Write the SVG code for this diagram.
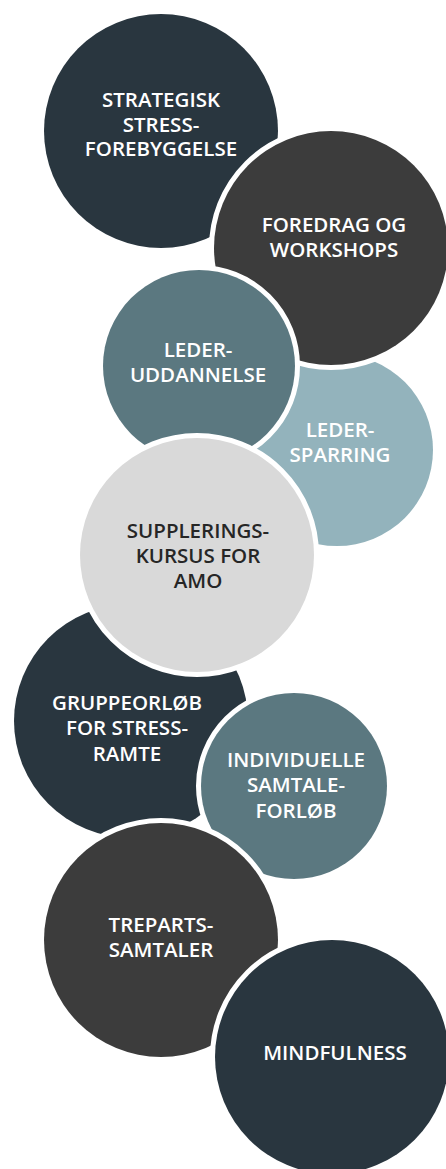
<svg xmlns="http://www.w3.org/2000/svg" width="446" height="1169" viewBox="0 0 446 1169">
<style>
.c{stroke:#ffffff;stroke-width:10;paint-order:stroke}
.t{font-family:"Open Sans","Liberation Sans",sans-serif;font-size:20.5px;font-weight:600;text-anchor:middle;fill:#ffffff}
.d{fill:#262626}
</style>
<rect width="446" height="1169" fill="#ffffff"/>
<g id="connectors"/>
<g id="n1"><circle class="c" cx="161" cy="131" r="117" fill="#29363f"/>
<text class="t" x="161" y="107">STRATEGISK</text><text class="t" x="161" y="132">STRESS-</text><text class="t" x="161" y="156">FOREBYGGELSE</text></g>
<g id="n4"><circle class="c" cx="337" cy="450" r="96" fill="#93b3bc"/>
<text class="t" x="340" y="437">LEDER-</text><text class="t" x="340" y="462">SPARRING</text></g>
<g id="n2"><circle class="c" cx="331" cy="248" r="117" fill="#3c3c3c"/>
<text class="t" x="334" y="232">FOREDRAG OG</text><text class="t" x="334" y="257">WORKSHOPS</text></g>
<g id="n3"><circle class="c" cx="199" cy="366" r="96" fill="#5b7880"/>
<text class="t" x="198" y="357">LEDER-</text><text class="t" x="198" y="382">UDDANNELSE</text></g>
<g id="n6"><circle class="c" cx="131" cy="721" r="117" fill="#29363f"/>
<text class="t" x="127" y="710">GRUPPEORLØB</text><text class="t" x="127" y="735">FOR STRESS-</text><text class="t" x="127" y="761">RAMTE</text></g>
<g id="n5"><circle class="c" cx="197" cy="555" r="117" fill="#d9d9d9"/>
<text class="t d" x="198" y="538">SUPPLERINGS-</text><text class="t d" x="198" y="563">KURSUS FOR</text><text class="t d" x="198" y="588">AMO</text></g>
<g id="n7"><circle class="c" cx="294" cy="786" r="93" fill="#5b7880"/>
<text class="t" x="296" y="767">INDIVIDUELLE</text><text class="t" x="296" y="792">SAMTALE-</text><text class="t" x="296" y="818">FORLØB</text></g>
<g id="n8"><circle class="c" cx="161" cy="940" r="117" fill="#3c3c3c"/>
<text class="t" x="161" y="932">TREPARTS-</text><text class="t" x="161" y="957">SAMTALER</text></g>
<g id="n9"><circle class="c" cx="332" cy="1057" r="117" fill="#29363f"/>
<text class="t" x="335" y="1060">MINDFULNESS</text></g>
</svg>
